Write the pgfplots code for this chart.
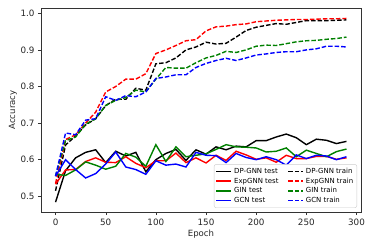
\documentclass[border=0pt]{standalone}
\usepackage{fontspec}
\setmainfont{DejaVu Sans}
\usepackage{pgfplots}
\usepackage{pgfplotstable}
\pgfplotsset{compat=1.18}
\pgfplotstableread{
ep dpt ept git gct dptr eptr gitr gctr
0 0.484 0.533 0.560 0.555 0.515 0.535 0.555 0.555
10 0.570 0.572 0.557 0.600 0.640 0.655 0.652 0.673
20 0.605 0.573 0.572 0.573 0.665 0.668 0.662 0.668
30 0.620 0.595 0.594 0.550 0.695 0.700 0.697 0.708
40 0.627 0.605 0.585 0.562 0.712 0.730 0.712 0.712
50 0.592 0.593 0.574 0.588 0.748 0.785 0.748 0.772
60 0.623 0.592 0.582 0.621 0.765 0.800 0.762 0.762
70 0.610 0.608 0.617 0.580 0.765 0.820 0.770 0.775
80 0.620 0.590 0.607 0.573 0.795 0.820 0.790 0.772
90 0.567 0.578 0.582 0.560 0.790 0.835 0.785 0.785
100 0.600 0.597 0.641 0.597 0.862 0.890 0.820 0.822
110 0.617 0.597 0.595 0.585 0.865 0.900 0.852 0.826
120 0.628 0.618 0.635 0.588 0.878 0.912 0.850 0.832
130 0.598 0.592 0.608 0.580 0.900 0.925 0.850 0.832
140 0.627 0.605 0.612 0.620 0.908 0.928 0.865 0.852
150 0.615 0.591 0.616 0.612 0.921 0.952 0.878 0.863
160 0.635 0.612 0.628 0.611 0.916 0.963 0.885 0.871
170 0.627 0.598 0.641 0.592 0.918 0.965 0.896 0.877
180 0.637 0.623 0.635 0.617 0.935 0.969 0.893 0.871
190 0.635 0.613 0.634 0.606 0.953 0.971 0.900 0.878
200 0.652 0.601 0.632 0.600 0.962 0.977 0.910 0.886
210 0.652 0.605 0.621 0.608 0.967 0.979 0.913 0.889
220 0.662 0.593 0.623 0.600 0.972 0.981 0.912 0.893
230 0.670 0.612 0.632 0.585 0.970 0.982 0.917 0.895
240 0.660 0.603 0.608 0.613 0.975 0.983 0.922 0.895
250 0.641 0.603 0.626 0.603 0.980 0.983 0.925 0.900
260 0.656 0.609 0.617 0.612 0.980 0.984 0.926 0.903
270 0.653 0.609 0.608 0.610 0.980 0.985 0.929 0.910
280 0.644 0.601 0.622 0.600 0.981 0.985 0.931 0.910
290 0.650 0.605 0.629 0.608 0.982 0.986 0.935 0.908
}\data
\definecolor{mplgreen}{HTML}{008000}
\begin{document}
\begin{tikzpicture}
\begin{axis}[
  scale only axis,
  width=320bp, height=204bp,
  xmin=-14.5, xmax=304.5,
  ymin=0.457, ymax=1.0145,
  xtick={0,50,...,300},
  ytick={0.5,0.6,0.7,0.8,0.9,1.0},
  yticklabel style={/pgf/number format/.cd,fixed,fixed zerofill,precision=1},
  /pgf/number format/assume math mode=true,
  tick align=outside,
  major tick length=3bp,
  tick pos=left,
  ticklabel style={font=\fontsize{8.8}{10}\selectfont, color=black!85},
  label style={font=\fontsize{8.6}{10}\selectfont, color=black!85},
  xlabel={Epoch},
  ylabel={Accuracy},
  xlabel style={at={(axis description cs:0.5,-0.108)},anchor=center},
  ylabel style={at={(axis description cs:-0.0875,0.5)},anchor=center},
  axis line style={black!80},
  every tick/.style={black!80},
  legend columns=2,
  legend cell align=left,
  legend style={at={(axis description cs:0.9875,0.02)}, anchor=south east,
    font=\fontsize{7}{8}\selectfont, draw=black!20, rounded corners=2pt,
    /tikz/every even column/.append style={column sep=7bp},
    inner sep=1.6bp, row sep=-1bp},
  legend image code/.code={\draw[line width=1.4pt,#1] (0bp,0bp) -- (15bp,0bp);},
]
\addplot[line width=1.4pt, black, no marks] table[x=ep,y=dpt]{\data};
\addlegendentry{DP-GNN test}
\addplot[line width=1.4pt, black, no marks, dash pattern=on 4.5bp off 2bp] table[x=ep,y=dptr]{\data};
\addlegendentry{DP-GNN train}
\addplot[line width=1.4pt, red, no marks] table[x=ep,y=ept]{\data};
\addlegendentry{ExpGNN test}
\addplot[line width=1.4pt, red, no marks, dash pattern=on 4.5bp off 2bp] table[x=ep,y=eptr]{\data};
\addlegendentry{ExpGNN train}
\addplot[line width=1.4pt, mplgreen, no marks] table[x=ep,y=git]{\data};
\addlegendentry{GIN test}
\addplot[line width=1.4pt, mplgreen, no marks, dash pattern=on 4.5bp off 2bp] table[x=ep,y=gitr]{\data};
\addlegendentry{GIN train}
\addplot[line width=1.4pt, blue, no marks] table[x=ep,y=gct]{\data};
\addlegendentry{GCN test}
\addplot[line width=1.4pt, blue, no marks, dash pattern=on 4.5bp off 2bp] table[x=ep,y=gctr]{\data};
\addlegendentry{GCN train}
\end{axis}
\path ([shift={(-41bp,-37bp)}]current axis.south west) rectangle ([shift={(13bp,8bp)}]current axis.north east);
\end{tikzpicture}
\end{document}
